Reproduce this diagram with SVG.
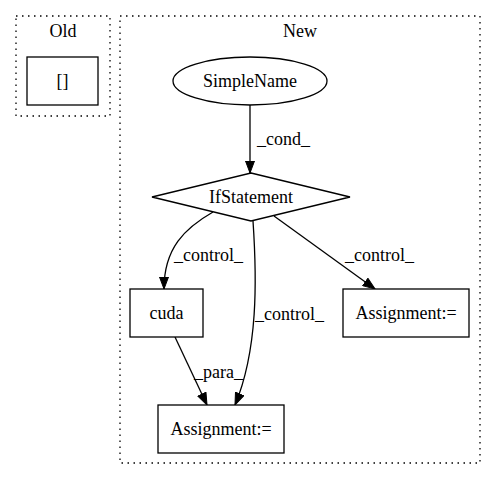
<svg xmlns="http://www.w3.org/2000/svg" width="496" height="480" viewBox="0 0 496 480">
<defs>
<marker id="ah" markerWidth="13" markerHeight="10" refX="12.5" refY="5" orient="auto" markerUnits="userSpaceOnUse">
<polygon points="0.5,0.5 12.5,5 0.5,9.5" fill="#000" stroke="#000"/>
</marker>
</defs>
<style>
text{font-family:'Liberation Serif','Times New Roman',serif;font-size:18px;fill:#000}
.c{text-anchor:middle}
.cl{fill:none;stroke:#000;stroke-dasharray:1.5,4.5;stroke-width:1.3}
.n{fill:#fff;stroke:#000;stroke-width:1.3}
.e{fill:none;stroke:#000;stroke-width:1.3;marker-end:url(#ah)}
</style>
<rect width="496" height="480" fill="#fff"/>
<g id="cluster_old">
<rect class="cl" x="16" y="16" width="94" height="100"/>
<text class="c" x="63" y="37">Old</text>
</g>
<g id="cluster_new">
<rect class="cl" x="120" y="16" width="360" height="447"/>
<text class="c" x="300" y="37">New</text>
</g>
<g id="connectors">
<path class="e" d="M250,105 L250,173"/>
<text x="257" y="145">_cond_</text>
<path class="e" d="M213,212 C185,228 164,248 164,289"/>
<text x="174" y="261">_control_</text>
<path class="e" d="M253,221 C257,280 258,350 235,405"/>
<text x="255" y="320">_control_</text>
<path class="e" d="M274,216 L375,289"/>
<text x="345" y="261">_control_</text>
<path class="e" d="M175,337 L207,405"/>
<text x="194" y="378">_para_</text>
</g>
<g id="node_brackets">
<rect class="n" x="27" y="57" width="71" height="48"/>
<text class="c" x="62.5" y="87">[]</text>
</g>
<g id="node_simplename">
<ellipse class="n" cx="250" cy="81" rx="77" ry="24"/>
<text class="c" x="250" y="87">SimpleName</text>
</g>
<g id="node_ifstatement">
<polygon class="n" points="251,173 350,197 251,221 152,197"/>
<text class="c" x="251" y="203">IfStatement</text>
</g>
<g id="node_cuda">
<rect class="n" x="130" y="289" width="73" height="48"/>
<text class="c" x="166.5" y="319">cuda</text>
</g>
<g id="node_assign_right">
<rect class="n" x="343" y="289" width="126" height="48"/>
<text class="c" x="406" y="319">Assignment:=</text>
</g>
<g id="node_assign_bottom">
<rect class="n" x="158" y="405" width="126" height="48"/>
<text class="c" x="221" y="435">Assignment:=</text>
</g>
</svg>
